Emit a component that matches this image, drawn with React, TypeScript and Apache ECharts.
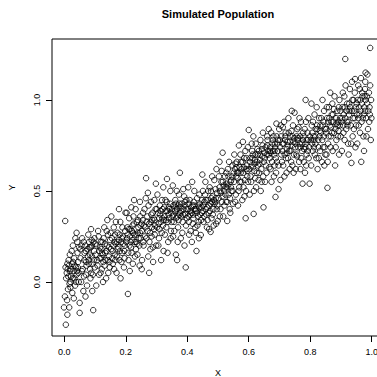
import React, { useEffect, useRef } from "react";
import * as echarts from "echarts";

const chartTitle = "Simulated Population";
const xTicks = [0, 0.2, 0.4, 0.6, 0.8, 1.0];
const yTicks = [0, 0.5, 1.0];

const pointsA: [number, number][] = [
[0.003,0.335],[0.002,-0.08],[0.016,-0.14],[-0.001,-0.14],[0.01,-0.18],[0.005,-0.235],[0.05,-0.115],[0.05,-0.17],[0.012,-0.04],[0.02,0.0],[0.008,0.05],[0.015,0.09],[0.025,0.1],[0.03,0.06],[0.022,0.03],[0.035,-0.02],[0.04,0.04],[0.045,0.11],[0.01,0.1],[0.028,0.2],[0.036,0.24],[0.042,0.22],[0.048,0.19],[0.018,0.15],[0.032,0.13],[0.006,0.02],[0.038,0.08],[0.047,0.0],[0.026,-0.06],[0.014,0.12],[0.043,0.16],[0.031,-0.09],[0.019,0.06],[0.009,-0.1],[0.04,0.27],[0.024,0.17],[0.046,0.05],[0.004,0.08],[0.033,0.02],[0.02,-0.03],
[0.094,-0.155],[0.055,0.0],[0.06,0.07],[0.065,0.12],[0.07,0.04],[0.075,0.18],[0.08,0.1],[0.085,0.02],[0.09,0.14],[0.095,0.22],[0.058,0.24],[0.062,-0.05],[0.068,0.2],[0.072,0.09],[0.078,0.26],[0.083,0.15],[0.088,0.05],[0.092,0.1],[0.097,0.17],[0.053,0.13],[0.066,0.16],[0.074,-0.02],[0.081,0.22],[0.086,0.19],[0.091,-0.05],[0.099,0.08],[0.057,0.06],[0.064,0.03],[0.071,0.11],[0.077,0.14],[0.084,0.07],[0.089,0.23],[0.096,0.12],[0.052,0.18],[0.069,-0.08],[0.087,0.29],[0.093,0.04],[0.079,0.12],
[0.102,0.15],[0.105,0.2],[0.108,0.09],[0.112,0.25],[0.115,0.13],[0.118,0.05],[0.121,0.18],[0.124,0.22],[0.127,0.11],[0.13,0.3],[0.133,0.16],[0.136,0.02],[0.139,0.2],[0.142,0.26],[0.145,0.14],[0.148,0.08],[0.104,-0.02],[0.11,0.28],[0.116,0.19],[0.122,0.07],[0.128,0.24],[0.134,0.12],[0.14,0.34],[0.146,0.19],[0.149,0.23],[0.107,0.12],[0.113,0.04],[0.119,0.22],[0.125,0.15],[0.131,0.09],[0.137,0.17],[0.143,0.05],[0.101,0.21],[0.114,0.17],[0.126,0.0],[0.138,0.28],[0.147,0.11],[0.12,0.13],
[0.152,0.18],[0.155,0.24],[0.158,0.1],[0.161,0.3],[0.164,0.15],[0.167,0.21],[0.17,0.05],[0.173,0.27],[0.176,0.19],[0.179,0.12],[0.182,0.33],[0.185,0.22],[0.188,0.16],[0.191,0.25],[0.194,0.08],[0.197,0.2],[0.153,0.36],[0.159,0.2],[0.165,0.26],[0.171,0.14],[0.177,0.23],[0.183,0.02],[0.189,0.3],[0.195,0.17],[0.199,0.38],[0.156,0.13],[0.162,0.07],[0.168,0.33],[0.174,0.18],[0.18,0.26],[0.186,0.11],[0.192,0.21],[0.198,0.28],[0.151,0.27],[0.163,0.22],[0.178,0.4],[0.187,0.24],[0.196,0.13]
];

const pointsB: [number, number][] = [
[0.207,-0.066],[0.202,0.22],[0.205,0.3],[0.208,0.16],[0.211,0.35],[0.214,0.25],[0.217,0.19],[0.22,0.28],[0.223,0.1],[0.226,0.32],[0.229,0.22],[0.232,0.4],[0.235,0.26],[0.238,0.15],[0.241,0.3],[0.244,0.2],[0.247,0.36],[0.203,0.38],[0.209,0.12],[0.215,0.29],[0.221,0.23],[0.227,0.45],[0.233,0.18],[0.239,0.27],[0.245,0.09],[0.249,0.24],[0.206,0.26],[0.212,0.2],[0.218,0.41],[0.224,0.27],[0.23,0.14],[0.236,0.33],[0.242,0.24],[0.248,0.31],[0.213,0.06],[0.225,0.36],[0.237,0.21],[0.246,0.44],
[0.266,0.57],[0.298,0.54],[0.252,0.28],[0.255,0.34],[0.258,0.2],[0.261,0.4],[0.264,0.3],[0.267,0.24],[0.27,0.36],[0.273,0.14],[0.276,0.32],[0.279,0.27],[0.282,0.44],[0.285,0.3],[0.288,0.19],[0.291,0.35],[0.294,0.26],[0.297,0.4],[0.253,0.12],[0.259,0.31],[0.265,0.46],[0.271,0.28],[0.277,0.22],[0.283,0.37],[0.289,0.11],[0.295,0.31],[0.256,0.38],[0.262,0.25],[0.268,0.33],[0.274,0.42],[0.28,0.18],[0.286,0.34],[0.292,0.29],[0.299,0.2],[0.257,0.22],[0.272,0.49],[0.284,0.25],[0.293,0.45],[0.252,0.07],[0.276,0.05],
[0.334,0.566],[0.302,0.3],[0.305,0.38],[0.308,0.24],[0.311,0.42],[0.314,0.33],[0.317,0.27],[0.32,0.4],[0.323,0.17],[0.326,0.36],[0.329,0.45],[0.332,0.3],[0.335,0.39],[0.338,0.22],[0.341,0.35],[0.344,0.43],[0.347,0.28],[0.303,0.48],[0.309,0.35],[0.315,0.12],[0.321,0.31],[0.327,0.26],[0.333,0.44],[0.339,0.37],[0.345,0.5],[0.349,0.33],[0.306,0.2],[0.312,0.37],[0.318,0.45],[0.324,0.34],[0.33,0.39],[0.336,0.16],[0.342,0.4],[0.348,0.38],[0.31,0.29],[0.322,0.52],[0.337,0.33],[0.346,0.24],
[0.376,0.6],[0.353,0.53],[0.363,0.15],[0.367,0.12],[0.395,0.08],[0.352,0.36],[0.355,0.42],[0.358,0.28],[0.361,0.45],[0.364,0.35],[0.367,0.4],[0.37,0.3],[0.373,0.48],[0.376,0.38],[0.379,0.24],[0.382,0.43],[0.385,0.33],[0.388,0.4],[0.391,0.2],[0.394,0.37],[0.397,0.45],[0.354,0.25],[0.36,0.39],[0.366,0.5],[0.372,0.34],[0.378,0.41],[0.384,0.27],[0.39,0.47],[0.396,0.31],[0.357,0.33],[0.363,0.43],[0.369,0.22],[0.375,0.37],[0.381,0.36],[0.387,0.51],[0.393,0.42],[0.399,0.35],[0.371,0.42]
];

const pointsC: [number, number][] = [
[0.43,0.17],[0.444,0.258],[0.449,0.59],[0.402,0.4],[0.405,0.33],[0.408,0.45],[0.411,0.28],[0.414,0.38],[0.417,0.42],[0.42,0.35],[0.423,0.5],[0.426,0.3],[0.429,0.4],[0.432,0.46],[0.435,0.36],[0.438,0.24],[0.441,0.43],[0.447,0.38],[0.403,0.52],[0.409,0.37],[0.415,0.22],[0.421,0.44],[0.427,0.39],[0.433,0.31],[0.439,0.48],[0.445,0.34],[0.406,0.26],[0.412,0.41],[0.418,0.32],[0.424,0.4],[0.436,0.42],[0.442,0.37],[0.448,0.45],[0.404,0.36],[0.416,0.55],[0.428,0.27],[0.437,0.33],[0.446,0.41],
[0.476,0.275],[0.499,0.335],[0.452,0.42],[0.455,0.36],[0.458,0.48],[0.461,0.4],[0.464,0.3],[0.467,0.45],[0.47,0.38],[0.473,0.52],[0.476,0.43],[0.479,0.35],[0.482,0.47],[0.485,0.4],[0.488,0.56],[0.491,0.44],[0.494,0.32],[0.497,0.49],[0.453,0.33],[0.459,0.55],[0.465,0.41],[0.471,0.29],[0.477,0.5],[0.483,0.37],[0.489,0.43],[0.495,0.62],[0.456,0.44],[0.462,0.37],[0.468,0.5],[0.474,0.39],[0.48,0.44],[0.486,0.31],[0.492,0.51],[0.498,0.42],[0.451,0.5],[0.466,0.34],[0.481,0.58],[0.493,0.46],
[0.53,0.335],[0.515,0.71],[0.505,0.66],[0.502,0.46],[0.505,0.52],[0.508,0.4],[0.511,0.55],[0.514,0.47],[0.517,0.36],[0.52,0.5],[0.523,0.58],[0.526,0.44],[0.529,0.52],[0.532,0.62],[0.535,0.48],[0.538,0.4],[0.541,0.55],[0.544,0.5],[0.547,0.64],[0.503,0.58],[0.509,0.49],[0.521,0.42],[0.527,0.6],[0.533,0.53],[0.539,0.46],[0.545,0.58],[0.549,0.43],[0.506,0.36],[0.512,0.61],[0.518,0.53],[0.524,0.48],[0.53,0.44],[0.536,0.66],[0.542,0.52],[0.548,0.5],[0.513,0.44],[0.528,0.54],[0.54,0.38],
[0.59,0.35],[0.6,0.835],[0.552,0.55],[0.555,0.62],[0.558,0.48],[0.561,0.66],[0.564,0.57],[0.567,0.5],[0.57,0.63],[0.573,0.7],[0.576,0.55],[0.579,0.45],[0.582,0.6],[0.585,0.68],[0.588,0.56],[0.591,0.5],[0.594,0.64],[0.597,0.74],[0.553,0.7],[0.559,0.58],[0.565,0.42],[0.571,0.55],[0.577,0.62],[0.583,0.52],[0.589,0.72],[0.595,0.58],[0.556,0.44],[0.562,0.6],[0.568,0.75],[0.574,0.6],[0.58,0.66],[0.586,0.47],[0.592,0.62],[0.598,0.55],[0.557,0.65],[0.569,0.52],[0.581,0.77],[0.593,0.68]
];

const pointsD: [number, number][] = [
[0.616,0.374],[0.648,0.41],[0.602,0.62],[0.605,0.68],[0.608,0.55],[0.611,0.72],[0.614,0.63],[0.617,0.5],[0.62,0.67],[0.623,0.76],[0.626,0.6],[0.629,0.7],[0.632,0.56],[0.635,0.65],[0.638,0.78],[0.641,0.62],[0.644,0.69],[0.647,0.58],[0.603,0.48],[0.609,0.64],[0.615,0.8],[0.621,0.57],[0.627,0.66],[0.633,0.72],[0.639,0.5],[0.645,0.75],[0.606,0.58],[0.612,0.68],[0.618,0.61],[0.624,0.52],[0.63,0.64],[0.636,0.7],[0.642,0.55],[0.649,0.66],[0.61,0.76],[0.622,0.7],[0.634,0.6],[0.646,0.82],
[0.687,0.467],[0.697,0.51],[0.69,0.87],[0.652,0.68],[0.655,0.74],[0.658,0.6],[0.661,0.78],[0.664,0.7],[0.667,0.63],[0.67,0.74],[0.673,0.82],[0.676,0.66],[0.679,0.72],[0.682,0.58],[0.685,0.76],[0.688,0.68],[0.691,0.8],[0.694,0.72],[0.697,0.64],[0.653,0.55],[0.659,0.7],[0.665,0.84],[0.671,0.62],[0.677,0.76],[0.683,0.7],[0.689,0.6],[0.695,0.78],[0.656,0.64],[0.662,0.72],[0.668,0.68],[0.674,0.55],[0.68,0.8],[0.686,0.74],[0.692,0.66],[0.699,0.84],[0.66,0.8],[0.672,0.71],[0.684,0.64],
[0.702,0.74],[0.705,0.8],[0.708,0.66],[0.711,0.85],[0.714,0.76],[0.717,0.7],[0.72,0.82],[0.723,0.6],[0.726,0.77],[0.729,0.9],[0.732,0.72],[0.735,0.8],[0.738,0.66],[0.741,0.75],[0.744,0.86],[0.747,0.7],[0.703,0.56],[0.709,0.72],[0.715,0.88],[0.721,0.68],[0.727,0.75],[0.733,0.62],[0.739,0.83],[0.745,0.77],[0.749,0.93],[0.706,0.7],[0.712,0.64],[0.718,0.78],[0.724,0.73],[0.73,0.82],[0.736,0.72],[0.742,0.64],[0.748,0.79],[0.704,0.86],[0.716,0.58],[0.728,0.68],[0.74,0.94],[0.746,0.6],
[0.775,0.54],[0.798,0.54],[0.785,1.0],[0.752,0.76],[0.755,0.7],[0.758,0.84],[0.761,0.74],[0.764,0.66],[0.767,0.8],[0.77,0.88],[0.773,0.72],[0.776,0.78],[0.779,0.66],[0.782,0.84],[0.785,0.76],[0.788,0.7],[0.791,0.82],[0.794,0.9],[0.797,0.74],[0.753,0.62],[0.759,0.78],[0.765,0.9],[0.771,0.68],[0.777,0.82],[0.783,0.6],[0.789,0.78],[0.795,0.68],[0.756,0.8],[0.762,0.85],[0.768,0.62],[0.774,0.76],[0.78,0.73],[0.786,0.88],[0.792,0.72],[0.799,0.8],[0.757,0.69],[0.769,0.74],[0.787,0.64]
];

const pointsE: [number, number][] = [
[0.802,0.78],[0.805,0.86],[0.808,0.72],[0.811,0.8],[0.814,0.92],[0.817,0.76],[0.82,0.68],[0.823,0.84],[0.826,0.78],[0.829,0.9],[0.832,0.72],[0.835,0.82],[0.838,0.66],[0.841,0.86],[0.844,0.8],[0.847,0.74],[0.803,0.64],[0.809,0.88],[0.815,0.7],[0.821,0.96],[0.827,0.74],[0.833,0.86],[0.839,0.78],[0.845,0.94],[0.849,0.7],[0.806,0.76],[0.812,0.74],[0.818,0.84],[0.824,0.62],[0.83,0.8],[0.836,0.9],[0.842,0.74],[0.848,0.84],[0.804,0.98],[0.816,0.8],[0.828,0.68],[0.84,1.0],[0.846,0.64],
[0.856,0.517],[0.852,0.84],[0.855,0.9],[0.858,0.76],[0.861,0.96],[0.864,0.86],[0.867,0.8],[0.87,0.92],[0.873,0.72],[0.876,0.88],[0.879,1.02],[0.882,0.84],[0.885,0.78],[0.888,0.94],[0.891,0.88],[0.894,0.7],[0.897,0.9],[0.853,0.7],[0.859,0.88],[0.865,1.04],[0.871,0.82],[0.877,0.95],[0.883,0.74],[0.889,0.86],[0.895,1.0],[0.899,0.8],[0.854,0.96],[0.86,0.8],[0.866,0.74],[0.872,0.98],[0.878,0.82],[0.884,0.9],[0.89,0.8],[0.896,0.86],[0.857,0.66],[0.869,0.88],[0.881,0.64],[0.893,0.96],
[0.914,1.225],[0.934,0.654],[0.946,1.115],[0.902,0.88],[0.905,0.96],[0.908,0.82],[0.911,1.02],[0.914,0.9],[0.917,0.84],[0.92,0.98],[0.923,0.76],[0.926,0.92],[0.929,1.06],[0.932,0.86],[0.935,0.94],[0.938,0.8],[0.941,1.0],[0.944,0.9],[0.947,0.74],[0.903,0.72],[0.909,0.92],[0.915,1.08],[0.921,0.86],[0.927,0.98],[0.933,0.76],[0.939,0.9],[0.945,1.04],[0.949,0.86],[0.906,1.04],[0.912,0.78],[0.918,0.94],[0.924,0.88],[0.93,0.96],[0.936,1.1],[0.942,0.84],[0.948,0.96],[0.907,0.86],[0.925,0.7],
[0.966,0.66],[0.995,1.286],[0.98,1.15],[0.952,0.92],[0.955,1.0],[0.958,0.86],[0.961,1.06],[0.964,0.94],[0.967,0.88],[0.97,1.02],[0.973,0.8],[0.976,0.96],[0.979,1.1],[0.982,0.9],[0.985,0.98],[0.988,0.84],[0.991,1.04],[0.994,0.92],[0.997,0.78],[0.953,0.76],[0.959,0.96],[0.965,1.12],[0.971,0.9],[0.977,1.02],[0.983,0.8],[0.989,0.94],[0.995,1.08],[0.999,0.9],[0.956,1.08],[0.962,0.82],[0.968,0.98],[0.974,0.92],[0.98,1.0],[0.986,1.14],[0.992,0.88],[0.998,1.0],[0.957,0.9],[0.975,0.72]
];

const pointsClumps: [number, number][] = [
[0.013,0.03],[0.021,0.07],[0.027,0.02],[0.034,0.09],[0.041,0.06],[0.017,-0.01],[0.029,0.11],[0.038,0.0],[0.044,0.08],[0.011,0.07],
[0.056,0.2],[0.063,0.22],[0.07,0.17],[0.082,0.19],[0.09,0.2],[0.098,0.24],
[0.123,0.16],[0.132,0.21],[0.141,0.12],[0.157,0.17],[0.166,0.12],[0.172,0.22],[0.181,0.17],
[0.204,0.24],[0.21,0.29],[0.216,0.22],[0.222,0.31],[0.228,0.26],[0.234,0.22],[0.24,0.34],[0.246,0.27],[0.251,0.32],[0.219,0.16],
[0.281,0.33],[0.287,0.38],[0.293,0.34],[0.301,0.4],[0.307,0.32],[0.313,0.39],[0.319,0.35],[0.325,0.41],[0.331,0.34],[0.34,0.41],
[0.351,0.4],[0.356,0.37],[0.362,0.41],[0.368,0.36],[0.374,0.43],[0.38,0.39],[0.386,0.37],[0.392,0.44],[0.398,0.4],[0.404,0.43],[0.41,0.39],[0.419,0.37],
[0.422,0.42],[0.431,0.38],[0.44,0.41],[0.45,0.39],[0.46,0.45],[0.47,0.42],[0.478,0.46],[0.487,0.45],[0.496,0.4],
[0.507,0.5],[0.516,0.55],[0.525,0.52],[0.534,0.58],[0.543,0.56],[0.551,0.6],[0.56,0.63],[0.566,0.6],[0.575,0.66],[0.584,0.63],[0.596,0.61],
[0.604,0.66],[0.613,0.7],[0.619,0.65],[0.628,0.73],[0.637,0.67],[0.643,0.73],[0.651,0.71],[0.66,0.75],[0.669,0.72],[0.678,0.78],[0.684,0.72],[0.693,0.76],
[0.701,0.78],[0.71,0.76],[0.719,0.8],[0.725,0.71],[0.734,0.77],[0.743,0.8],[0.751,0.74],[0.76,0.79],[0.766,0.76],[0.778,0.8],[0.784,0.74],[0.793,0.78],
[0.807,0.82],[0.813,0.78],[0.822,0.86],[0.831,0.83],[0.843,0.88],[0.851,0.82],[0.862,0.9],[0.868,0.85],[0.874,0.92],[0.886,0.87],[0.892,0.83],[0.898,0.94],
[0.904,0.9],[0.913,0.96],[0.919,0.88],[0.928,0.94],[0.937,1.0],[0.943,0.94],[0.951,0.98],[0.96,0.92],[0.969,1.04],[0.978,0.94],[0.984,1.02],[0.993,0.96],[0.978,1.06],[0.963,1.0]
];

const FONT = "'Liberation Sans', Arial, Helvetica, sans-serif";

export default function App() {
  const ref = useRef<HTMLDivElement>(null);
  useEffect(() => {
    if (!ref.current) return;
    const chart = echarts.init(ref.current, null, { renderer: "svg" });
    const data = [...pointsA, ...pointsB, ...pointsC, ...pointsD, ...pointsE, ...pointsClumps];
    chart.setOption({
      animation: false,
      backgroundColor: "#fff",
      graphic: [
        {
          type: "text",
          x: 218,
          y: 14,
          style: {
            text: chartTitle,
            textAlign: "center",
            textVerticalAlign: "middle",
            font: `bold 11px ${FONT}`,
            fill: "#000",
          },
        },
      ],
      grid: {
        left: 52,
        top: 39,
        width: 332,
        height: 297,
        show: true,
        borderColor: "#000",
        borderWidth: 1,
        backgroundColor: "transparent",
        containLabel: false,
        outerBoundsMode: "none",
      },
      xAxis: {
        type: "value",
        min: -0.04,
        max: 1.04,
        name: "X",
        nameLocation: "middle",
        nameGap: 32,
        nameTextStyle: { fontFamily: FONT, fontSize: 9, color: "#000" },
        splitLine: { show: false },
        axisLine: { show: false, onZero: false },
        axisTick: { show: true, length: 6, customValues: xTicks, lineStyle: { color: "#000", width: 1 } },
        axisLabel: {
          customValues: xTicks,
          formatter: (v: number) => v.toFixed(1),
          margin: 11,
          fontFamily: FONT,
          fontSize: 9,
          color: "#000",
        },
      },
      yAxis: {
        type: "value",
        min: -0.297,
        max: 1.335,
        name: "Y",
        nameLocation: "middle",
        nameGap: 36,
        nameRotate: 90,
        nameTextStyle: { fontFamily: FONT, fontSize: 9, color: "#000" },
        splitLine: { show: false },
        axisLine: { show: false, onZero: false },
        axisTick: { show: true, length: 6, customValues: yTicks, lineStyle: { color: "#000", width: 1 } },
        axisLabel: {
          customValues: yTicks,
          formatter: (v: number) => v.toFixed(1),
          rotate: 90,
          margin: 11,
          fontFamily: FONT,
          fontSize: 9,
          color: "#000",
        },
      },
      series: [
        {
          type: "scatter",
          data,
          symbol: "circle",
          symbolSize: 5.5,
          silent: true,
          itemStyle: { color: "rgba(0,0,0,0)", borderColor: "#000", borderWidth: 1 },
        },
      ],
    });
    return () => chart.dispose();
  }, []);
  return (
    <div
      ref={ref}
      style={{ position: "fixed", left: 0, top: 0, width: 392, height: 377 }}
    />
  );
}
